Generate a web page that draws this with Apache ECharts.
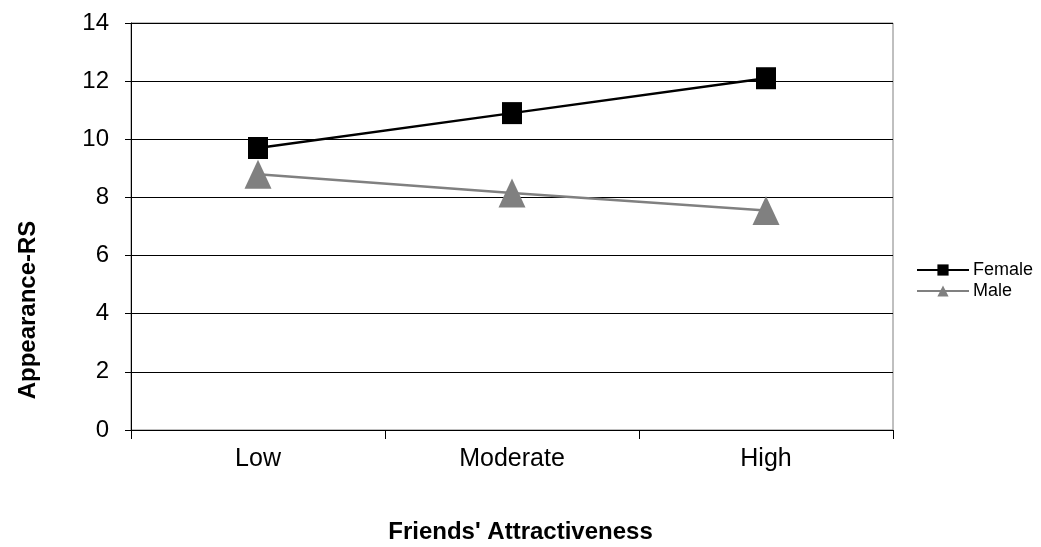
<!DOCTYPE html>
<html>
<head>
<meta charset="utf-8">
<script src="https://cdn.jsdelivr.net/npm/echarts@6/dist/echarts.min.js"></script>
<style>html,body{margin:0;padding:0;background:#fff}#c{width:1041px;height:547px}</style>
</head>
<body>
<div id="c"></div>
<script>
const categories = ['Low', 'Moderate', 'High'];
const femaleValues = [9.7, 10.9, 12.1];
const maleValues = [8.8, 8.15, 7.55];
const yTicks = [0, 2, 4, 6, 8, 10, 12, 14];

const chart = echarts.init(document.getElementById('c'), null, {renderer: 'canvas'});
const font = '"Liberation Sans", Arial, sans-serif';
chart.setOption({
  animation: false,
  backgroundColor: '#fff',
  grid: {left: 131, right: 148, top: 23, bottom: 117, show: true, borderColor: '#808080', borderWidth: 1},
  xAxis: {
    type: 'category', data: categories, boundaryGap: true,
    axisLine: {lineStyle: {color: '#000', width: 1}},
    axisTick: {show: true, length: 9, lineStyle: {color: '#000'}, alignWithLabel: false},
    axisLabel: {color: '#000', fontSize: 25, fontFamily: font, margin: 17},
    splitLine: {show: false}
  },
  yAxis: {
    type: 'value', min: yTicks[0], max: yTicks[yTicks.length - 1], interval: 2,
    axisLine: {show: true, lineStyle: {color: '#000', width: 1}},
    axisTick: {show: true, length: 6, lineStyle: {color: '#000'}},
    axisLabel: {color: '#000', fontSize: 24, fontFamily: font, margin: 22},
    splitLine: {show: true, lineStyle: {color: '#000', width: 1}}
  },
  legend: {
    orient: 'vertical', left: 911, top: 256, itemGap: 3, itemWidth: 52, itemHeight: 14,
    textStyle: {color: '#000', fontSize: 18, fontFamily: font, padding: [0, 0, 0, -1]},
    data: ['Female', 'Male']
  },
  graphic: [
    {type: 'text', left: 'center', top: 520, style: {text: "Friends' Attractiveness", font: 'bold 24px ' + font, fill: '#000'}},
    {type: 'text', x: 28, y: 310, rotation: Math.PI / 2, style: {text: 'Appearance-RS', font: 'bold 24px ' + font, fill: '#000', align: 'center', verticalAlign: 'middle'}}
  ],
  series: [
    {name: 'Female', type: 'line', data: femaleValues, symbol: 'rect', symbolSize: [20, 22],
      lineStyle: {color: '#000', width: 2.5}, itemStyle: {color: '#000'}},
    {name: 'Male', type: 'line', data: maleValues, symbol: 'triangle', symbolSize: [27, 29],
      lineStyle: {color: '#808080', width: 2.5}, itemStyle: {color: '#808080'}}
  ]
});
</script>
</body>
</html>
